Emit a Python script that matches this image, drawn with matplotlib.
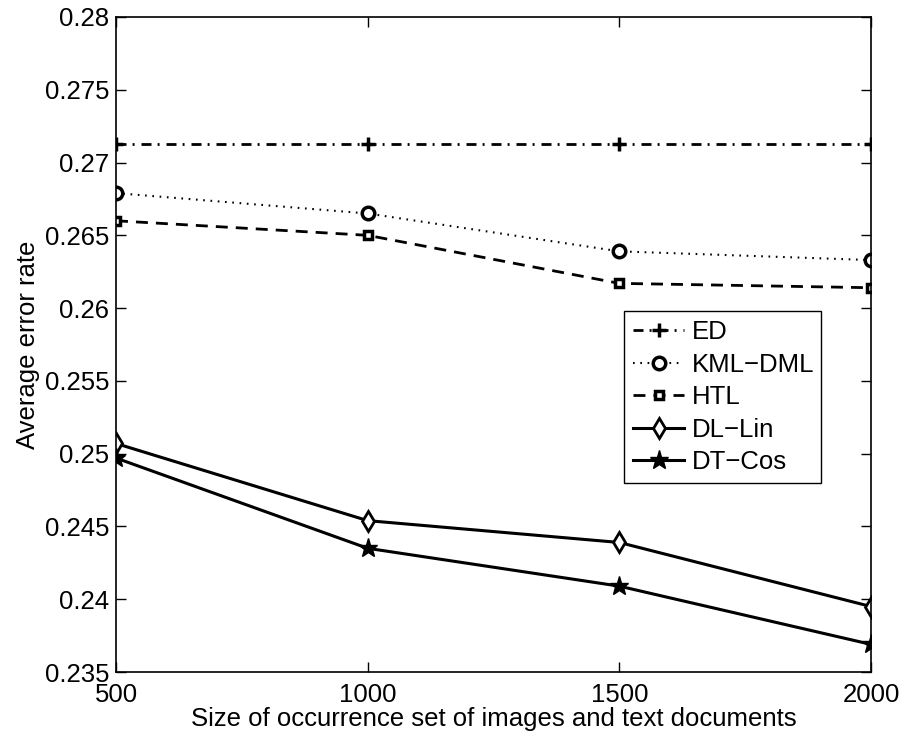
import matplotlib
matplotlib.use("Agg")
import matplotlib.pyplot as plt
from matplotlib.ticker import FuncFormatter

plt.rcParams['font.family'] = ['Liberation Sans', 'DejaVu Sans']

# Data
sizes = [500, 1000, 1500, 2000]
ed = [0.2713, 0.2713, 0.2713, 0.2713]
kml_dml = [0.2679, 0.2665, 0.2639, 0.2633]
htl = [0.2660, 0.2650, 0.2617, 0.2614]
dl_lin = [0.2507, 0.2454, 0.2439, 0.2395]
dt_cos = [0.2497, 0.2435, 0.2409, 0.2369]

fs = 18.5

fig = plt.figure(figsize=(9.02, 7.38), dpi=100)
ax = fig.add_axes([0.1286, 0.0894, 0.837, 0.8876])

ax.plot(sizes, ed, color='black', lw=2, linestyle=(0, (3.6, 2.2, 0.7, 2.5)),
        marker='+', ms=10, mew=2.5, label='ED')
ax.plot(sizes, kml_dml, color='black', lw=1.5, linestyle=(0, (0.8, 2.7)),
        marker='o', ms=9, mew=2.5, mfc='white', label='KML\u2212DML')
ax.plot(sizes, htl, color='black', lw=2, linestyle=(0, (4.3, 2.9)),
        marker='s', ms=6, mew=2.5, mfc='white', label='HTL')
ax.plot(sizes, dl_lin, color='black', lw=2.2, linestyle='-',
        marker='d', ms=10, mew=2, mfc='white', label='DL\u2212Lin')
ax.plot(sizes, dt_cos, color='black', lw=2.2, linestyle='-',
        marker='*', ms=14, label='DT\u2212Cos')

ax.set_xlim(500, 2000)
ax.set_ylim(0.235, 0.28)
ax.set_xticks(sizes)
ax.set_yticks([0.235 + 0.005 * i for i in range(10)])
ax.yaxis.set_major_formatter(FuncFormatter(lambda v, p: ('%.3f' % v).rstrip('0')))

ax.tick_params(direction='in', length=7, width=1, labelsize=fs,
               top=True, right=True, pad=5)
ax.tick_params(axis='x', pad=8)
for s in ax.spines.values():
    s.set_linewidth(1.2)

ax.set_xlabel('Size of occurrence set of images and text documents', fontsize=fs, labelpad=0)
ax.set_ylabel('Average error rate', fontsize=fs, labelpad=3)

leg = ax.legend(loc='upper left', bbox_to_anchor=(0.673, 0.290, 0.261, 0.261),
                mode='expand', fontsize=fs, fancybox=False, framealpha=1,
                edgecolor='black', handlelength=2.0, handletextpad=0.3,
                borderpad=0.35, labelspacing=0.33, borderaxespad=0)
leg.get_frame().set_linewidth(1)

fig.savefig('out.png', dpi=100)
